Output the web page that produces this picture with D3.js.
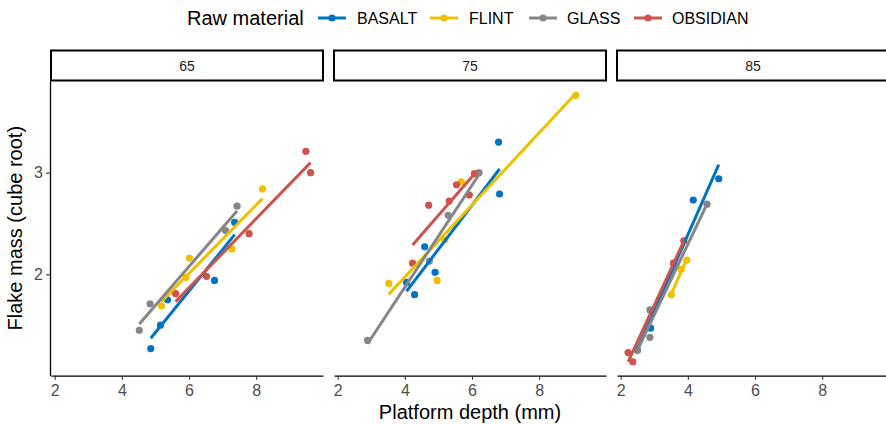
<!DOCTYPE html>
<html><head><meta charset="utf-8">
<script src="https://cdn.jsdelivr.net/npm/d3@7"></script>
<style>
body{margin:0;background:#fff;}
svg{display:block;font-family:"Liberation Sans",Arial,Helvetica,sans-serif;}
</style></head>
<body><svg id="c" width="886" height="424"></svg>
<script>
const panels = ["65","75","85"];
const materials = ["BASALT","FLINT","GLASS","OBSIDIAN"];
const colors = ["#0073C2","#EFC000","#868686","#CD534C"];
const xTicks = [2,4,6,8];
const yTicks = [2,3];
const xDomain = [1.89, 9.99];
const yDomain = [1.003, 3.904];
// [panel, platform depth, cube-root mass]
const basalt = [
  ["65",4.86,1.27],["65",5.15,1.50],["65",5.36,1.75],["65",6.76,1.94],["65",7.36,2.51],
  ["75",4.05,1.92],["75",4.29,1.80],["75",4.59,2.27],["75",4.90,2.02],["75",6.79,3.30],["75",6.82,2.79],
  ["85",2.49,1.26],["85",2.89,1.47],["85",4.16,2.73],["85",4.92,2.94]
];
const flint = [
  ["65",5.18,1.69],["65",5.91,1.97],["65",6.01,2.16],["65",7.28,2.25],["65",8.19,2.84],
  ["75",3.52,1.91],["75",4.96,1.94],["75",5.19,2.34],["75",5.68,2.91],["75",9.09,3.76],
  ["85",3.51,1.80],["85",3.80,2.05],["85",3.97,2.14]
];
const glass = [
  ["65",4.52,1.45],["65",4.84,1.71],["65",7.09,2.43],["65",7.43,2.67],
  ["75",2.89,1.35],["75",4.73,2.13],["75",5.29,2.58],["75",6.21,3.00],
  ["85",2.50,1.25],["85",2.87,1.65],["85",2.87,1.38],["85",4.57,2.69]
];
const obsidian = [
  ["65",5.60,1.81],["65",6.52,1.98],["65",7.79,2.40],["65",9.48,3.21],["65",9.62,3.00],
  ["75",4.23,2.11],["75",4.71,2.68],["75",5.32,2.72],["75",5.54,2.88],["75",5.92,2.78],["75",6.07,2.99],
  ["85",2.22,1.23],["85",2.36,1.14],["85",3.57,2.11],["85",3.88,2.33]
];
const seriesData = [basalt, flint, glass, obsidian];

const svg = d3.select("#c");
const panelLeft0 = 51, panelStep = 283, panelW = 272;
const plotTop = 80.7, plotBottom = 375.7;
const y = d3.scaleLinear().domain(yDomain).range([plotBottom, plotTop]);

function fit(pts){
  const mx = d3.mean(pts, d=>d[1]), my = d3.mean(pts, d=>d[2]);
  const sxy = d3.sum(pts, d=>(d[1]-mx)*(d[2]-my));
  const sxx = d3.sum(pts, d=>(d[1]-mx)*(d[1]-mx));
  const b = sxy/sxx, a = my - b*mx;
  const x0 = d3.min(pts,d=>d[1]), x1 = d3.max(pts,d=>d[1]);
  return [[x0, a+b*x0],[x1, a+b*x1]];
}

panels.forEach((p, pi) => {
  const L = panelLeft0 + pi*panelStep;
  const x = d3.scaleLinear().domain(xDomain).range([L, L+panelW]);
  const g = svg.append("g");
  // strip
  g.append("rect").attr("x",L).attr("y",50.5).attr("width",panelW).attr("height",30)
    .attr("fill","#fff").attr("stroke","#000").attr("stroke-width",2);
  g.append("text").attr("x",L+panelW/2).attr("y",70.5).attr("text-anchor","middle")
    .attr("font-size",14).attr("fill","#1a1a1a").text(p);
  // x axis
  const ax = g.append("g").attr("transform",`translate(0,${plotBottom})`)
    .call(d3.axisBottom(x).tickValues(xTicks).tickSize(4).tickSizeOuter(0).tickFormat(d3.format("d")));
  ax.select(".domain").attr("stroke","#000").attr("stroke-width",1.3);
  ax.selectAll(".tick line").attr("stroke","#333").attr("stroke-width",1.1);
  ax.selectAll(".tick text").attr("font-size",16).attr("fill","#4d4d4d").attr("dy","0.85em")
    .attr("font-family","Liberation Sans, Arial, sans-serif");
  if (pi === 0) {
    const ay = g.append("g").attr("transform",`translate(${L-1},0)`)
      .call(d3.axisLeft(y).tickValues(yTicks).tickSize(4).tickSizeOuter(0).tickFormat(d3.format("d")));
    ay.select(".domain").attr("stroke","#000").attr("stroke-width",1.3);
    ay.selectAll(".tick line").attr("stroke","#333").attr("stroke-width",1.1);
    ay.selectAll(".tick text").attr("font-size",16).attr("fill","#4d4d4d")
      .attr("font-family","Liberation Sans, Arial, sans-serif");
  }
  // points
  seriesData.forEach((s, si) => {
    g.selectAll(null).data(s.filter(d=>d[0]===p)).enter().append("circle")
      .attr("cx", d=>x(d[1])).attr("cy", d=>y(d[2])).attr("r",3.6).attr("fill",colors[si]);
  });
  // fitted lines
  seriesData.forEach((s, si) => {
    const pts = s.filter(d=>d[0]===p);
    const f = fit(pts);
    g.append("line").attr("x1",x(f[0][0])).attr("y1",y(f[0][1]))
      .attr("x2",x(f[1][0])).attr("y2",y(f[1][1]))
      .attr("stroke",colors[si]).attr("stroke-width",3);
  });
});

// axis titles
svg.append("text").attr("x",470).attr("y",419).attr("text-anchor","middle")
  .attr("font-size",20).attr("fill","#000").text("Platform depth (mm)");
svg.append("text").attr("transform",`translate(22,${(plotTop+plotBottom)/2}) rotate(-90)`)
  .attr("text-anchor","middle").attr("font-size",20).attr("fill","#000").text("Flake mass (cube root)");

// legend
const lg = svg.append("g");
lg.append("text").attr("x",187).attr("y",25).attr("font-size",20).text("Raw material");
const keyX = [318, 430, 529, 634];
const labX = [357, 469, 567, 672];
materials.forEach((m, i) => {
  lg.append("line").attr("x1",keyX[i]).attr("x2",keyX[i]+28).attr("y1",18).attr("y2",18)
    .attr("stroke",colors[i]).attr("stroke-width",3);
  lg.append("circle").attr("cx",keyX[i]+14).attr("cy",18).attr("r",3.6).attr("fill",colors[i]);
  lg.append("text").attr("x",labX[i]).attr("y",24).attr("font-size",16).text(m);
});
</script></body></html>
